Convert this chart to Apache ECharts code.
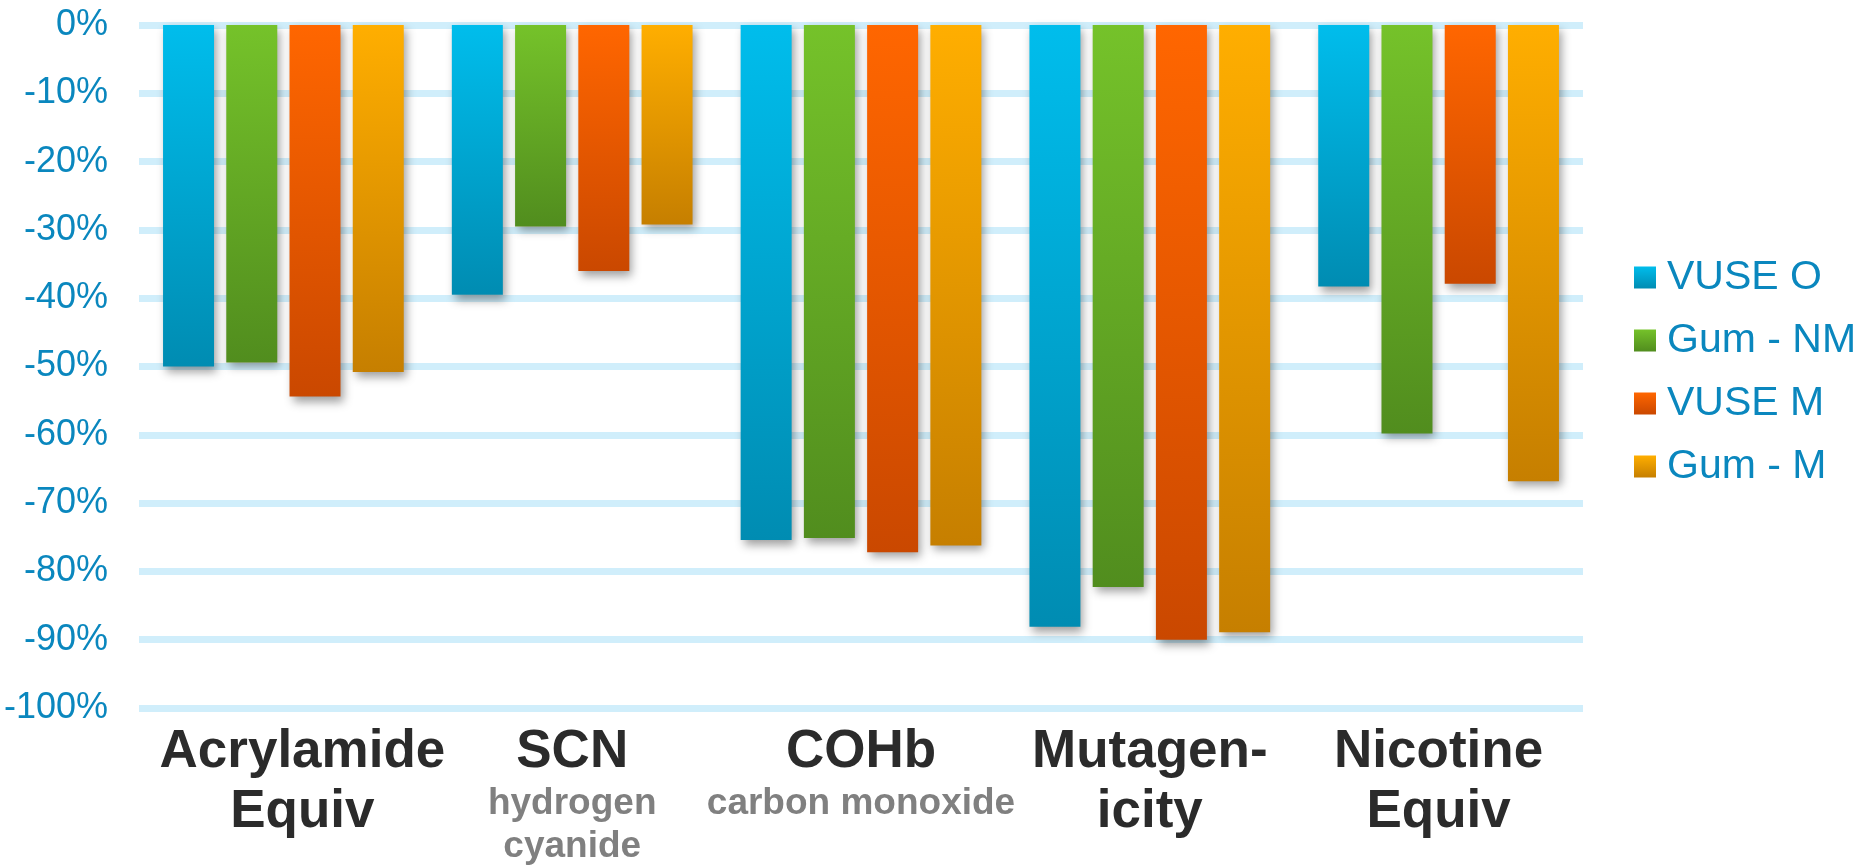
<!DOCTYPE html>
<html>
<head>
<meta charset="utf-8">
<title>Exposure reduction by biomarker</title>
<script src="https://cdn.jsdelivr.net/npm/echarts@6/dist/echarts.min.js"></script>
<style>
  html, body { margin: 0; padding: 0; background: #ffffff; }
  #chart { width: 1860px; height: 865px; }
</style>
</head>
<body>
<div id="chart"></div>
<script>
// Biomarker categories: main label lines and grey explanatory lines
const categories = ['Acrylamide\nEquiv', 'SCN', 'COHb', 'Mutagen-\nicity', 'Nicotine\nEquiv'];
const subLabels = ['', 'hydrogen\ncyanide', 'carbon monoxide', '', ''];

// Percentage change per product
const seriesNames = ['VUSE O', 'Gum - NM', 'VUSE M', 'Gum - M'];
const vuseO = [-50.0, -39.5, -75.4, -88.1, -38.3];
const gumNM = [-49.4, -29.5, -75.1, -82.3, -59.8];
const vuseM = [-54.4, -36.0, -77.2, -90.0, -37.9];
const gumM  = [-50.8, -29.2, -76.2, -88.9, -66.8];

// Y-axis ticks
const yMin = -100, yMax = 0, yStep = 10;

// Top/bottom gradient colours for each series
const palette = [
  ['#00BDEC', '#008CB2'],
  ['#75C22A', '#518D1E'],
  ['#FF6600', '#CA4800'],
  ['#FFAE00', '#C67F00']
];

const chart = echarts.init(document.getElementById('chart'), null, { renderer: 'canvas' });

function barSeries(name, data, colors) {
  return {
    name: name,
    type: 'bar',
    data: data,
    barWidth: 51,
    barGap: '24%',
    itemStyle: {
      color: new echarts.graphic.LinearGradient(0, 0, 0, 1, [
        { offset: 0, color: colors[0] },
        { offset: 1, color: colors[1] }
      ]),
      shadowColor: 'rgba(0,0,0,0.38)',
      shadowBlur: 9,
      shadowOffsetX: 3,
      shadowOffsetY: 5
    },
    emphasis: { disabled: true }
  };
}

const font = '"Liberation Sans", Arial, Helvetica, sans-serif';

chart.setOption({
  animation: false,
  backgroundColor: '#ffffff',
  grid: { left: 139, right: 277, top: 25, bottom: 155, containLabel: false },
  legend: {
    orient: 'vertical',
    left: 1629,
    top: 252,
    itemWidth: 22,
    itemHeight: 22,
    itemGap: 22,
    icon: 'rect',
    data: seriesNames,
    textStyle: {
      fontFamily: font,
      fontSize: 41,
      lineHeight: 41,
      color: '#0A87BE',
      padding: [0, 0, 0, 6]
    }
  },
  xAxis: {
    type: 'category',
    data: categories,
    position: 'bottom',
    axisLine: { show: false, onZero: false },
    axisTick: { show: false },
    splitLine: { show: false },
    axisLabel: {
      interval: 0,
      margin: 14,
      verticalAlign: 'top',
      formatter: function (value, idx) {
        // the first category's lines sit slightly right of the band centre
        const style = idx === 0 ? 'm0' : 'm';
        const main = value.split('\n').map(s => '{' + style + '|' + s + '}').join('\n');
        const sub = subLabels[idx] ? '\n' + subLabels[idx].split('\n').map(s => '{s|' + s + '}').join('\n') : '';
        return main + sub;
      },
      rich: {
        m: { fontFamily: font, fontSize: 53, fontWeight: 'bold', color: '#2B2B2B', lineHeight: 60 },
        m0: { fontFamily: font, fontSize: 53, fontWeight: 'bold', color: '#2B2B2B', lineHeight: 60, padding: [0, 0, 0, 38] },
        s: { fontFamily: font, fontSize: 37, fontWeight: 'bold', color: '#808080', lineHeight: 43 }
      }
    }
  },
  yAxis: {
    type: 'value',
    min: yMin,
    max: yMax,
    interval: yStep,
    axisLine: { show: false },
    axisTick: { show: false },
    axisLabel: {
      margin: 31,
      formatter: '{value}%',
      fontFamily: font,
      fontSize: 36,
      color: '#0A87BE'
    },
    splitLine: { show: true, lineStyle: { color: '#D0EEFB', width: 7 } }
  },
  series: [
    barSeries(seriesNames[0], vuseO, palette[0]),
    barSeries(seriesNames[1], gumNM, palette[1]),
    barSeries(seriesNames[2], vuseM, palette[2]),
    barSeries(seriesNames[3], gumM, palette[3])
  ]
});
</script>
</body>
</html>
